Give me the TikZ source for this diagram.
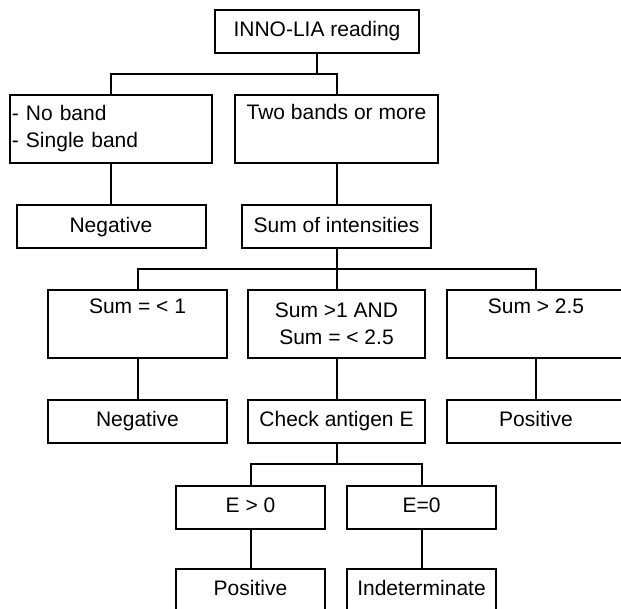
\documentclass[tikz,border=0pt]{standalone}
\usepackage{fontspec}
\setmainfont{Liberation Sans}
\usepackage{tikz}
\usetikzlibrary{calc,positioning}
\tikzset{
  link/.style={black, line width=2pt},
  flatbox/.style={draw=black, line width=2pt, minimum height=43pt, inner sep=2pt, align=center, text height=15pt, text depth=4.5pt, font=\fontsize{21}{27}\selectfont},
  tallbox/.style={flatbox, minimum height=68pt, text height=, text depth=},
  listbox/.style={tallbox, align=left, text width=198pt}
}

\begin{document}
\begin{tikzpicture}[x=1pt, y=-1pt]
  \useasboundingbox (0,0) rectangle (621,609);
  \clip (0,0) rectangle (621,609);
  \node[flatbox, minimum width=204pt] (root) at (317,31.5) {INNO-LIA reading};
  \node[listbox] (band1) at (111,129) {- No band\\- Single band};
  \node[tallbox, minimum width=203pt] (band2) at (336.5,129) {Two bands or more\\\strut};
  \node[flatbox, minimum width=189pt] (neg1) at (111,227) {Negative};
  \node[flatbox, minimum width=189pt] (sum) at (336.5,227) {Sum of intensities};
  \node[tallbox, minimum width=179pt] (low) at (137.5,324) {Sum = < 1\\\strut};
  \node[tallbox, minimum width=177pt] (mid) at (336.5,324) {Sum >1 AND\\Sum = < 2.5};
  \node[tallbox, minimum width=178pt] (high) at (536,324) {Sum > 2.5\\\strut};
  \node[flatbox, minimum width=179pt] (neg2) at (137.5,421.5) {Negative};
  \node[flatbox, minimum width=177pt] (check) at (336.5,421.5) {Check antigen E};
  \node[flatbox, minimum width=178pt] (pos1) at (536,421.5) {Positive};
  \node[flatbox, minimum width=149pt] (epos) at (250.5,507) {E > 0};
  \node[flatbox, minimum width=149pt] (ezero) at (421.5,507) {E=0};
  \node[flatbox, minimum width=149pt] (pos2) at (250.5,590.5) {Positive};
  \node[flatbox, minimum width=149pt] (indet) at (421.5,590.5) {Indeterminate};
  \foreach \a/\b in {root/band1, root/band2, sum/low, sum/mid, sum/high, check/epos, check/ezero}{
    \draw[link] (\a.south) |- ($(\a.south)!0.5!(\b.north)$) -| (\b.north);
  }
  \foreach \a/\b in {band1/neg1, band2/sum, low/neg2, mid/check, high/pos1, epos/pos2, ezero/indet}{
    \draw[link] (\a.south) -- (\a.south |- \b.north);
  }
\end{tikzpicture}
\end{document}
